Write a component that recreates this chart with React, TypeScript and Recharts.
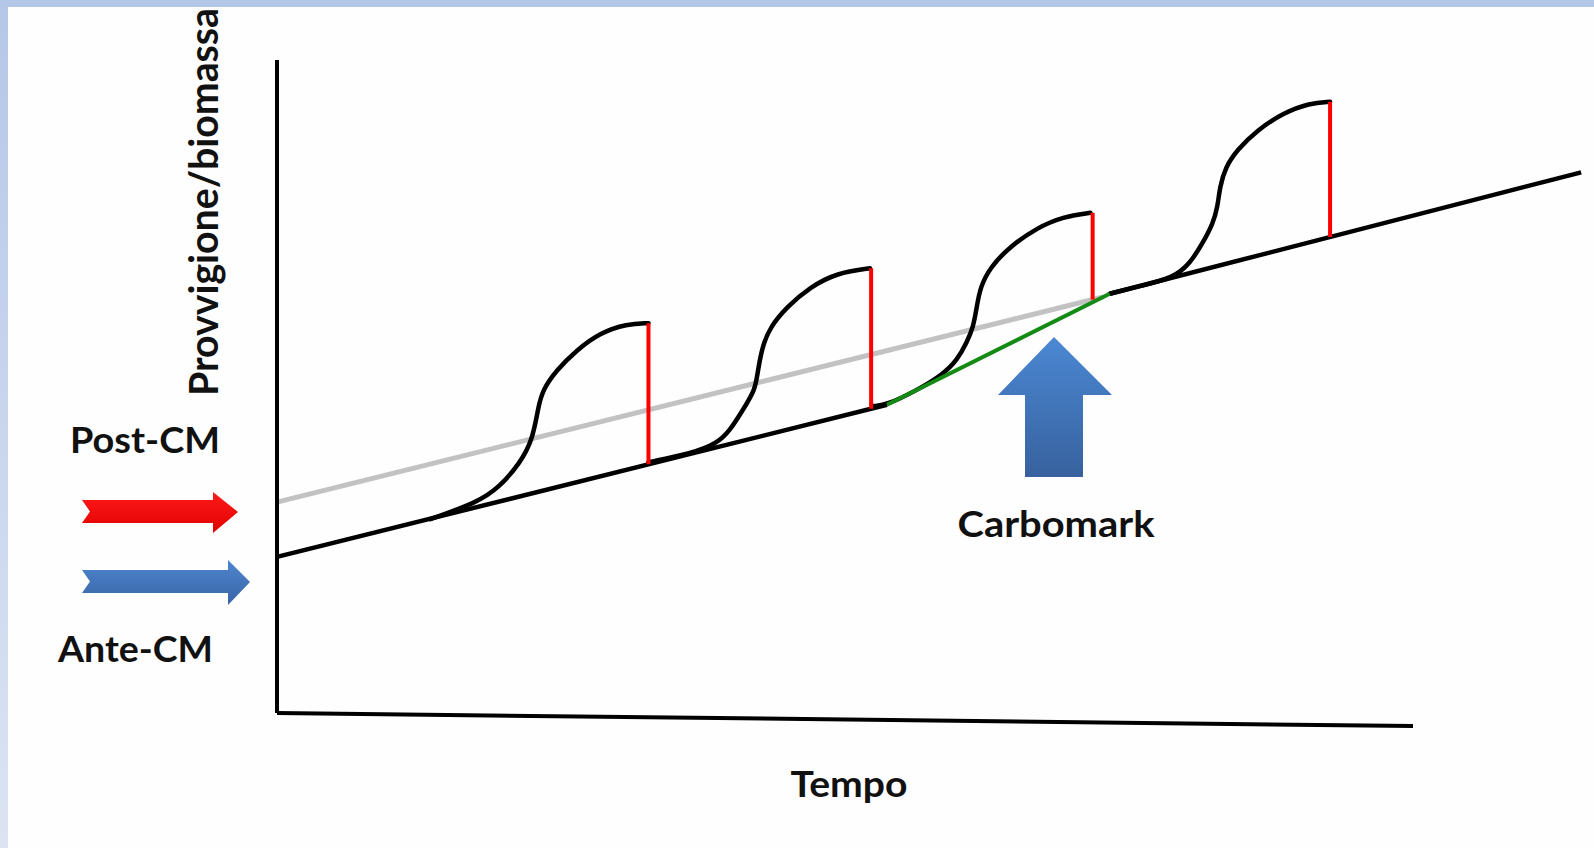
import { LineChart, Line, XAxis, YAxis } from 'recharts';

// t = time (x-axis end = 100), v = growing stock / biomass (y-axis top = 100)
const xAxisLine = [{ t: 0, v: 0 }, { t: 100, v: -2 }];
const yAxisLine = [{ t: 0, v: 0 }, { t: 0, v: 100 }];

const anteBaseline = [{ t: 0, v: 23.9 }, { t: 53.7, v: 47.2 }];
const carbomarkStep = [{ t: 53.7, v: 47.2 }, { t: 73.3, v: 64.2 }];
const postBaseline = [{ t: 73.3, v: 64.2 }, { t: 114.8, v: 82.8 }];
const postProjection = [{ t: 0, v: 32.3 }, { t: 72.7, v: 63.7 }];

const cycle1 = [
  { t: 13.5, v: 29.7 }, { t: 17.6, v: 32.2 }, { t: 19.6, v: 34.6 }, { t: 21.4, v: 38.3 },
  { t: 22.5, v: 41.8 }, { t: 23.0, v: 46.9 }, { t: 23.4, v: 49.5 }, { t: 24.6, v: 52.5 },
  { t: 26.4, v: 55.6 }, { t: 28.4, v: 58.2 }, { t: 30.8, v: 59.6 }, { t: 32.7, v: 59.7 },
];
const cycle2 = [
  { t: 32.7, v: 38.4 }, { t: 36.4, v: 39.7 }, { t: 38.7, v: 41.2 }, { t: 39.9, v: 43.3 },
  { t: 41.0, v: 46.4 }, { t: 42.1, v: 49.5 }, { t: 42.3, v: 52.1 }, { t: 42.7, v: 56.0 },
  { t: 43.4, v: 59.1 }, { t: 44.9, v: 62.2 }, { t: 46.9, v: 65.2 }, { t: 49.3, v: 67.4 },
  { t: 52.2, v: 68.1 },
];
const cycle3 = [
  { t: 52.5, v: 47.0 }, { t: 53.7, v: 47.2 }, { t: 56.2, v: 49.3 }, { t: 58.6, v: 51.8 },
  { t: 59.9, v: 54.1 }, { t: 60.7, v: 56.7 }, { t: 61.3, v: 59.1 }, { t: 61.6, v: 62.2 },
  { t: 61.9, v: 65.2 }, { t: 62.8, v: 68.3 }, { t: 64.5, v: 71.4 }, { t: 66.9, v: 74.3 },
  { t: 69.2, v: 76.0 }, { t: 71.6, v: 76.6 },
];
const cycle4 = [
  { t: 73.3, v: 64.2 }, { t: 76.0, v: 65.4 }, { t: 78.9, v: 66.6 }, { t: 80.4, v: 68.9 },
  { t: 81.5, v: 72.0 }, { t: 82.4, v: 75.0 }, { t: 82.8, v: 77.5 }, { t: 83.0, v: 80.6 },
  { t: 83.5, v: 83.6 }, { t: 84.5, v: 86.2 }, { t: 86.3, v: 89.3 }, { t: 88.6, v: 91.9 },
  { t: 90.9, v: 93.4 }, { t: 92.7, v: 93.6 },
];

// harvest cuts (red drops)
const cutTimes = [32.7, 52.3, 71.8, 92.7];
const cutTops = [59.7, 68.1, 76.6, 93.6];
const cutBottoms = [38.1, 46.6, 63.3, 72.9];

const cuts = cutTimes.map((t, i) => [
  { t, v: cutBottoms[i] },
  { t, v: cutTops[i] },
]);

const FONT = 'Lato, "Open Sans", sans-serif';

function Overlay() {
  return (
    <svg width={1594} height={848} style={{ position: 'absolute', left: 0, top: 0, pointerEvents: 'none' }}>
      <defs>
        <linearGradient id="redArrow" x1="0" y1="0" x2="0" y2="1">
          <stop offset="0%" stopColor="#ff1a1a" />
          <stop offset="100%" stopColor="#e00000" />
        </linearGradient>
        <linearGradient id="blueArrow" x1="0" y1="0" x2="0" y2="1">
          <stop offset="0%" stopColor="#4d85cf" />
          <stop offset="100%" stopColor="#3865a6" />
        </linearGradient>
        <linearGradient id="upArrow" x1="0" y1="0" x2="0" y2="1">
          <stop offset="0%" stopColor="#4b88d3" />
          <stop offset="100%" stopColor="#37619e" />
        </linearGradient>
      </defs>

      {/* Post-CM arrow */}
      <polygon points="82,500 213,500 213,492 238,512 213,533 213,523 82,523 90,511.5" fill="url(#redArrow)" />
      {/* Ante-CM arrow */}
      <polygon points="82,570 228,570 228,560 250,582 228,605 228,593 82,593 90,581.5" fill="url(#blueArrow)" />
      {/* Carbomark arrow */}
      <polygon points="1054,337 1112,395 1083,395 1083,477 1025,477 1025,395 998,395" fill="url(#upArrow)" />

      <g fontFamily={FONT} fontWeight={700} fill="#111" fontSize={36}>
        <text x={145} y={453} textAnchor="middle" textLength={150} lengthAdjust="spacingAndGlyphs">Post-CM</text>
        <text x={135.5} y={662} textAnchor="middle" textLength={155} lengthAdjust="spacingAndGlyphs">Ante-CM</text>
        <text x={1056} y={537} textAnchor="middle" textLength={197} lengthAdjust="spacingAndGlyphs">Carbomark</text>
        <text x={849} y={797} textAnchor="middle" textLength={117} lengthAdjust="spacingAndGlyphs">Tempo</text>
        <text
          transform="translate(218,202) rotate(-90)"
          textAnchor="middle"
          fontSize={40}
          textLength={388}
          lengthAdjust="spacingAndGlyphs"
        >
          Provvigione/biomassa
        </text>
      </g>
    </svg>
  );
}

export default function App() {
  return (
    <div
      style={{
        position: 'fixed',
        left: 0,
        top: 0,
        width: 1594,
        height: 848,
        background: 'linear-gradient(180deg, #b5c7e8 0%, #dce4f3 100%)',
        overflow: 'hidden',
      }}
    >
      <div style={{ position: 'absolute', left: 8, top: 7, right: 0, bottom: 0, background: '#fefefe' }} />
      <div style={{ position: 'absolute', left: 0, top: 0 }}>
        <LineChart width={1594} height={848} margin={{ top: 60, right: 10.6, bottom: 4.4, left: 277 }}>
          <XAxis dataKey="t" type="number" domain={[0, 115]} hide />
          <YAxis type="number" domain={[-20, 100]} hide />

          <Line data={postProjection} dataKey="v" stroke="#c2c2c2" strokeWidth={5} dot={false} activeDot={false} isAnimationActive={false} />
          <Line data={anteBaseline} dataKey="v" stroke="#000" strokeWidth={4.5} dot={false} activeDot={false} isAnimationActive={false} />
          <Line data={postBaseline} dataKey="v" stroke="#000" strokeWidth={4.5} dot={false} activeDot={false} isAnimationActive={false} />
          {[cycle1, cycle2, cycle3, cycle4].map((c, i) => (
            <Line key={`c${i}`} data={c} dataKey="v" type="basis" stroke="#000" strokeWidth={4.5} strokeLinecap="round" dot={false} activeDot={false} isAnimationActive={false} />
          ))}
          <Line data={carbomarkStep} dataKey="v" stroke="#138a13" strokeWidth={4} dot={false} activeDot={false} isAnimationActive={false} />
          {cuts.map((c, i) => (
            <Line key={`r${i}`} data={c} dataKey="v" stroke="#ff0000" strokeWidth={4} dot={false} activeDot={false} isAnimationActive={false} />
          ))}
          <Line data={yAxisLine} dataKey="v" stroke="#000" strokeWidth={4} dot={false} activeDot={false} isAnimationActive={false} />
          <Line data={xAxisLine} dataKey="v" stroke="#000" strokeWidth={4} dot={false} activeDot={false} isAnimationActive={false} />
        </LineChart>
      </div>
      <Overlay />
    </div>
  );
}
